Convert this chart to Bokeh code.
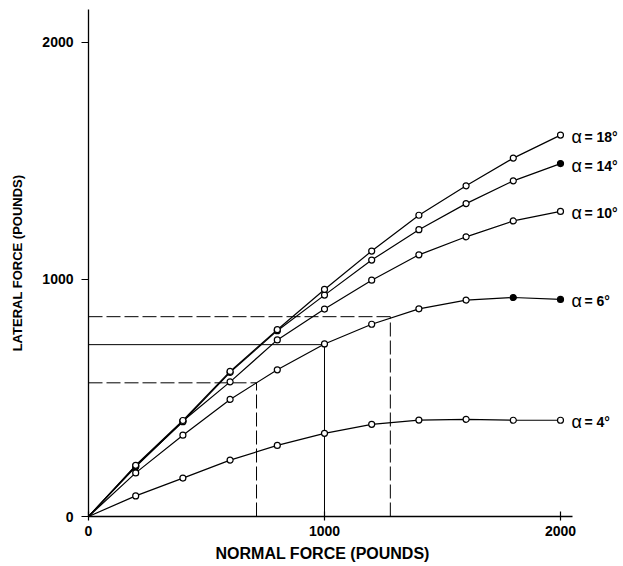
from bokeh.plotting import figure
from bokeh.models import FixedTicker, Range1d, ColumnDataSource, LabelSet, Title
from bokeh.core.properties import value
from bokeh.embed import file_html
from bokeh.resources import INLINE

# ---- data ----
normal_force = [0, 200, 400, 600, 800, 1000, 1200, 1400, 1600, 1800, 2000]
lateral_a4 = [0, 87, 162, 238, 300, 351, 389, 407, 410, 406, 406]
lateral_a6 = [0, 184, 343, 494, 619, 728, 811, 876, 913, 924, 916]
lateral_a10 = [0, 210, 403, 568, 745, 875, 997, 1104, 1180, 1247, 1287]
lateral_a14 = [0, 213, 400, 608, 784, 934, 1082, 1210, 1320, 1416, 1489]
lateral_a18 = [0, 216, 405, 612, 788, 958, 1120, 1271, 1395, 1512, 1609]
angles = [4, 6, 10, 14, 18]
x_ticks = [0, 1000, 2000]
y_ticks = [0, 1000, 2000]
x_axis_extent = (0, 2051)
solid_ref_x = [1000]
solid_ref_y = [725]
dashed_ref_x = [712, 1279]
dashed_ref_y = [564, 843]
filled_points = [(14, 2000), (6, 2000), (6, 1800)]

series = [lateral_a4, lateral_a6, lateral_a10, lateral_a14, lateral_a18]

# frame spans to the right edge so the curve labels are not clipped;
# the x-axis line itself is limited to x_axis_extent via bounds
p = figure(width=623, height=566,
           x_range=Range1d(0, 2267), y_range=Range1d(0, 2139),
           output_backend="svg", toolbar_location=None,
           min_border_left=88, min_border_right=0,
           min_border_top=9, min_border_bottom=50)
p.outline_line_color = None
p.grid.visible = False
p.background_fill_color = "white"

BOLD = "Liberation Sans"

# axes
for ax in (p.xaxis[0], p.yaxis[0]):
    ax.axis_line_color = "black"
    ax.axis_line_width = 1.3
    ax.major_tick_line_color = "black"
    ax.major_tick_line_width = 1.2
    ax.minor_tick_line_color = None
    ax.major_label_text_font = BOLD
    ax.major_label_text_font_style = "bold"
    ax.major_label_text_font_size = "14px"
    ax.major_label_text_color = "black"
    ax.axis_label_text_font = BOLD
    ax.axis_label_text_font_style = "bold"
    ax.axis_label_text_color = "black"

p.xaxis.ticker = FixedTicker(ticks=x_ticks, minor_ticks=[])
p.yaxis.ticker = FixedTicker(ticks=y_ticks, minor_ticks=[])
p.xaxis.bounds = x_axis_extent
p.yaxis.axis_label = "LATERAL FORCE (POUNDS)"
p.yaxis.axis_label_text_font_size = "13px"
p.xaxis.major_tick_in = 5
p.xaxis.major_tick_out = 4
p.xaxis.major_label_standoff = 5
p.yaxis.major_tick_in = 0
p.yaxis.major_tick_out = 7
p.yaxis.major_label_standoff = 8
p.yaxis.axis_label_standoff = 14

# x-axis title placed as a below-title so it is centred under the axis line
p.add_layout(Title(text="NORMAL FORCE (POUNDS)", align="left", offset=127,
                   text_font=BOLD, text_font_style="bold", text_font_size="16px",
                   text_color="black", standoff=9), "below")

# reference construction lines
for rx, ry in zip(solid_ref_x, solid_ref_y):
    p.line([0, rx], [ry, ry], line_color="black", line_width=1)
    p.line([rx, rx], [0, ry], line_color="black", line_width=1)
for rx, ry in zip(dashed_ref_x, dashed_ref_y):
    p.line([0, rx], [ry, ry], line_color="black", line_width=1, line_dash="14 4")
    p.line([rx, rx], [0, ry], line_color="black", line_width=1, line_dash="14 4")

# curves and points
for ang, ys in zip(angles, series):
    p.line(normal_force, ys, line_color="black", line_width=1.2)
    fills = ["black" if (ang, xv) in filled_points else "white" for xv in normal_force[1:]]
    p.scatter(normal_force[1:], ys[1:], marker="circle", size=6,
              line_color="black", line_width=1.2, fill_color=fills)

# curve labels
lab_src = ColumnDataSource(dict(
    x=[normal_force[-1]] * len(angles),
    y=[ys[-1] for ys in series],
    alpha=["α"] * len(angles),
    rest=["= %d°" % a for a in angles],
))
p.add_layout(LabelSet(x="x", y="y", text="alpha", source=lab_src,
                      x_offset=11, y_offset=-2,
                      text_font=value(BOLD), text_font_size=value("18px"),
                      text_baseline="middle", text_align="left", text_color="black"))
p.add_layout(LabelSet(x="x", y="y", text="rest", source=lab_src,
                      x_offset=24, y_offset=-2,
                      text_font=value(BOLD), text_font_style="bold",
                      text_font_size=value("14px"),
                      text_baseline="middle", text_align="left", text_color="black"))

open("out.html", "w").write(file_html(p, INLINE))
